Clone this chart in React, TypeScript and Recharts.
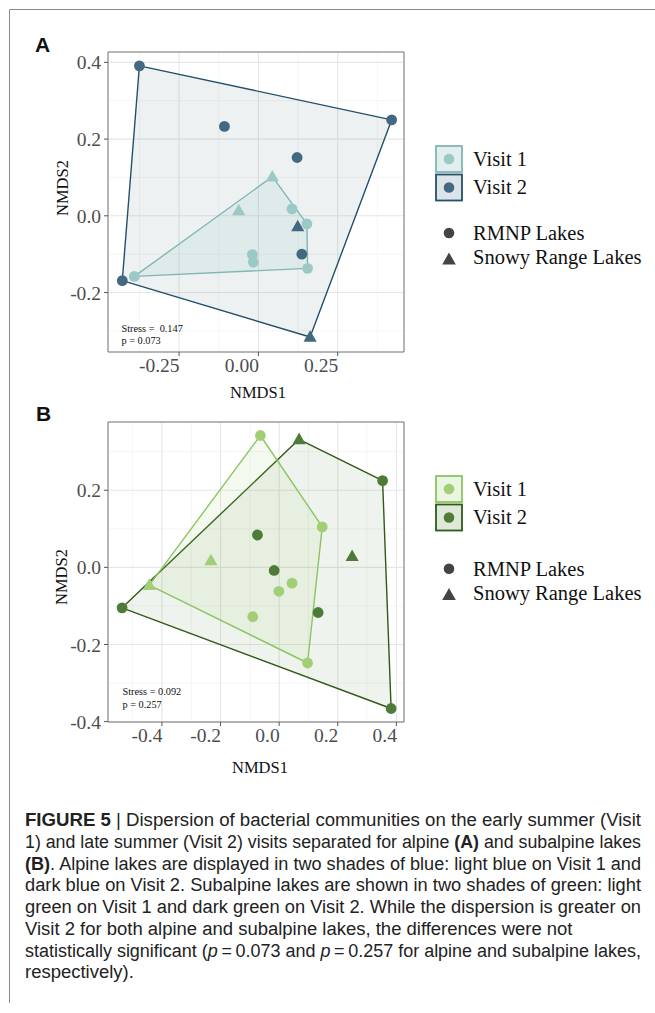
import React from 'react';
import { ScatterChart, Scatter, XAxis, YAxis, CartesianGrid, ReferenceArea } from 'recharts';

type Lake = 'RMNP' | 'Snowy';
interface Site {
  x: number;
  y: number;
  lake: Lake;
}

// Alpine lakes (panel A), NMDS site scores
const alpineVisit1: Site[] = [
  { x: 0.044, y: 0.102, lake: 'Snowy' },
  { x: -0.062, y: 0.014, lake: 'Snowy' },
  { x: 0.106, y: 0.018, lake: 'RMNP' },
  { x: 0.153, y: -0.021, lake: 'RMNP' },
  { x: -0.019, y: -0.101, lake: 'RMNP' },
  { x: -0.016, y: -0.121, lake: 'RMNP' },
  { x: 0.155, y: -0.137, lake: 'RMNP' },
  { x: -0.391, y: -0.158, lake: 'RMNP' },
];
const alpineVisit2: Site[] = [
  { x: -0.375, y: 0.391, lake: 'RMNP' },
  { x: 0.42, y: 0.25, lake: 'RMNP' },
  { x: -0.107, y: 0.233, lake: 'RMNP' },
  { x: 0.122, y: 0.152, lake: 'RMNP' },
  { x: 0.124, y: -0.028, lake: 'Snowy' },
  { x: 0.137, y: -0.1, lake: 'RMNP' },
  { x: 0.163, y: -0.316, lake: 'Snowy' },
  { x: -0.429, y: -0.169, lake: 'RMNP' },
];
// convex hull vertices (indices into the site arrays)
const alpineHull1 = [7, 0, 3, 6];
const alpineHull2 = [0, 1, 6, 7];

// Subalpine lakes (panel B)
const subalpineVisit1: Site[] = [
  { x: -0.064, y: 0.342, lake: 'RMNP' },
  { x: 0.147, y: 0.105, lake: 'RMNP' },
  { x: -0.233, y: 0.018, lake: 'Snowy' },
  { x: -0.443, y: -0.046, lake: 'Snowy' },
  { x: 0.044, y: -0.041, lake: 'RMNP' },
  { x: -0.001, y: -0.062, lake: 'RMNP' },
  { x: -0.09, y: -0.128, lake: 'RMNP' },
  { x: 0.097, y: -0.248, lake: 'RMNP' },
];
const subalpineVisit2: Site[] = [
  { x: 0.068, y: 0.332, lake: 'Snowy' },
  { x: 0.353, y: 0.225, lake: 'RMNP' },
  { x: 0.249, y: 0.029, lake: 'Snowy' },
  { x: -0.074, y: 0.084, lake: 'RMNP' },
  { x: -0.017, y: -0.008, lake: 'RMNP' },
  { x: 0.133, y: -0.117, lake: 'RMNP' },
  { x: -0.536, y: -0.105, lake: 'RMNP' },
  { x: 0.382, y: -0.366, lake: 'RMNP' },
];
const subalpineHull1 = [0, 1, 7, 3];
const subalpineHull2 = [0, 1, 7, 6];

// axes
const alpineXTicks = [-0.25, 0, 0.25];
const alpineXMinor = [-0.375, -0.125, 0.125, 0.375];
const alpineYTicks = [-0.2, 0, 0.2, 0.4];
const alpineYMinor = [-0.3, -0.1, 0.1, 0.3];
const subalpineXTicks = [-0.4, -0.2, 0, 0.2, 0.4];
const subalpineXMinor = [-0.5, -0.3, -0.1, 0.1, 0.3];
const subalpineYTicks = [-0.4, -0.2, 0, 0.2];
const subalpineYMinor = [-0.3, -0.1, 0.1, 0.3];

const alpineStress = ['Stress =  0.147', 'p = 0.073'];
const subalpineStress = ['Stress = 0.092', 'p = 0.257'];

const visitLabels = ['Visit 1', 'Visit 2'];
const lakeLabels = ['RMNP Lakes', 'Snowy Range Lakes'];

const SERIF = '"Liberation Serif", "Times New Roman", serif';
const SANS = '"Liberation Sans", Arial, sans-serif';

interface Palette {
  point1: string;
  point2: string;
  line1: string;
  line2: string;
  fill1: string;
  fill2: string;
  fillOpacity1: number;
  fillOpacity2: number;
  key1: string;
  key2: string;
}

const bluePalette: Palette = {
  point1: '#9bc9c5',
  point2: '#44687f',
  line1: '#80b7b4',
  line2: '#24506b',
  fill1: '#8fc3c0',
  fill2: '#4a7383',
  fillOpacity1: 0.14,
  fillOpacity2: 0.1,
  key1: '#e2efee',
  key2: '#dbe4e8',
};

const greenPalette: Palette = {
  point1: '#a2cf76',
  point2: '#4f7b38',
  line1: '#8cc462',
  line2: '#2f5a17',
  fill1: '#a0cd73',
  fill2: '#4e7a38',
  fillOpacity1: 0.11,
  fillOpacity2: 0.09,
  key1: '#eaf5e2',
  key2: '#dfe9da',
};

const hullOf = (sites: Site[], idx: number[]) => idx.map((i) => sites[i]);

const siteShape = (color: string) => (props: any) => {
  const { cx, cy, payload } = props;
  if (payload.lake === 'Snowy') {
    return (
      <polygon
        points={`${cx},${cy - 6.8} ${cx - 6.6},${cy + 4.8} ${cx + 6.6},${cy + 4.8}`}
        fill={color}
      />
    );
  }
  return <circle cx={cx} cy={cy} r={5.4} fill={color} />;
};

const noMarker = () => <g />;

const hullPolygon = (stroke: string, fill: string, fillOpacity: number) => (props: any) => {
  const pts = (props.points || []).map((p: any) => `${p.x},${p.y}`).join(' ');
  return (
    <polygon
      points={pts}
      fill={fill}
      fillOpacity={fillOpacity}
      stroke={stroke}
      strokeWidth={1.4}
      strokeLinejoin="round"
    />
  );
};

// x labels sit with their right edge on the tick
const XTick = (digits: number) => (props: any) => {
  const { x, y, payload } = props;
  return (
    <text x={x + 0.5} y={y} dy="0.71em" textAnchor="end" fill="#4d4d4d" fontSize={19.5} fontFamily={SERIF}>
      {payload.value.toFixed(digits)}
    </text>
  );
};

const YTick = (props: any) => {
  const { x, y, payload } = props;
  return (
    <text x={x} y={y} dy="0.36em" textAnchor="end" fill="#4d4d4d" fontSize={19.5} fontFamily={SERIF}>
      {payload.value.toFixed(1)}
    </text>
  );
};

interface PanelProps {
  top: number;
  visit1: Site[];
  visit2: Site[];
  hull1: number[];
  hull2: number[];
  xDomain: [number, number];
  yDomain: [number, number];
  xTicks: number[];
  xMinor: number[];
  yTicks: number[];
  yMinor: number[];
  xDigits: number;
  palette: Palette;
}

const OrdinationPanel: React.FC<PanelProps> = ({
  top, visit1, visit2, hull1, hull2, xDomain, yDomain, xTicks, xMinor, yTicks, yMinor, xDigits, palette,
}) => (
  <div style={{ position: 'absolute', left: 0, top, width: 420, height: 420 }}>
    <ScatterChart width={420} height={420} margin={{ top: 52, right: 16, bottom: 20, left: 58 }}>
      {/* minor then major grid */}
      <CartesianGrid
        stroke="#f1f1f1"
        strokeWidth={0.7}
        horizontalValues={yMinor}
        verticalValues={xMinor}
      />
      <CartesianGrid stroke="#e6e6e6" strokeWidth={1.1} />
      <XAxis
        type="number"
        dataKey="x"
        domain={xDomain}
        ticks={xTicks}
        interval={0}
        allowDataOverflow
        axisLine={false}
        tickSize={4}
        tickMargin={2}
        tickLine={{ stroke: '#555' }}
        tick={XTick(xDigits)}
        height={48}
      />
      <YAxis
        type="number"
        dataKey="y"
        domain={yDomain}
        ticks={yTicks}
        interval={0}
        allowDataOverflow
        axisLine={false}
        tickSize={4}
        tickMargin={3}
        tickLine={{ stroke: '#555' }}
        tick={YTick}
        width={50}
      />
      <Scatter
        data={hullOf(visit2, hull2)}
        shape={noMarker}
        line={hullPolygon(palette.line2, palette.fill2, palette.fillOpacity2)}
        lineType="joint"
        isAnimationActive={false}
      />
      <Scatter
        data={hullOf(visit1, hull1)}
        shape={noMarker}
        line={hullPolygon(palette.line1, palette.fill1, palette.fillOpacity1)}
        lineType="joint"
        isAnimationActive={false}
      />
      <Scatter data={visit2} shape={siteShape(palette.point2)} isAnimationActive={false} />
      <Scatter data={visit1} shape={siteShape(palette.point1)} isAnimationActive={false} />
      {/* panel border */}
      <ReferenceArea
        x1={xDomain[0]}
        x2={xDomain[1]}
        y1={yDomain[0]}
        y2={yDomain[1]}
        fill="none"
        stroke="#7a7a7a"
        strokeWidth={1}
        ifOverflow="visible"
      />
    </ScatterChart>
  </div>
);

interface LegendProps {
  boxTop: number;
  circleY: number;
  triangleY: number;
  palette: Palette;
}

const VisitLegend: React.FC<LegendProps> = ({ boxTop, circleY, triangleY, palette }) => {
  const bx = 436;
  const size = 26;
  const tx = 473;
  const rows = [
    { y: boxTop, fill: palette.key1, stroke: palette.line1, dot: palette.point1 },
    { y: boxTop + 28.5, fill: palette.key2, stroke: palette.line2, dot: palette.point2 },
  ];
  return (
    <g>
      {rows.map((r, i) => (
        <g key={i}>
          <rect x={bx} y={r.y} width={size} height={size} fill={r.fill} stroke={r.stroke} strokeWidth={1.8} />
          <circle cx={bx + size / 2} cy={r.y + size / 2} r={5.3} fill={r.dot} />
          <text x={tx} y={r.y + size / 2} dy="0.34em" fontSize={20.5} fontFamily={SERIF} fill="#111">
            {visitLabels[i]}
          </text>
        </g>
      ))}
      <circle cx={449} cy={circleY} r={5.3} fill="#444" />
      <text x={tx} y={circleY} dy="0.34em" fontSize={20.5} fontFamily={SERIF} fill="#111">
        {lakeLabels[0]}
      </text>
      <polygon
        points={`449,${triangleY - 7} ${442.2},${triangleY + 5} ${455.8},${triangleY + 5}`}
        fill="#444"
      />
      <text x={tx} y={triangleY - 2} dy="0.34em" fontSize={20.5} fontFamily={SERIF} fill="#111">
        {lakeLabels[1]}
      </text>
    </g>
  );
};

// caption lines; full lines are stretched to the right margin
const CAPTION_LEFT = 25;
const CAPTION_RIGHT = 641;
const captionLines: { content: React.ReactNode; full: boolean }[] = [
  {
    content: (
      <>
        <tspan fontWeight="bold">FIGURE 5</tspan> | Dispersion of bacterial communities on the early summer (Visit
      </>
    ),
    full: true,
  },
  {
    content: (
      <>
        1) and late summer (Visit 2) visits separated for alpine <tspan fontWeight="bold">(A)</tspan> and subalpine lakes
      </>
    ),
    full: true,
  },
  {
    content: (
      <>
        <tspan fontWeight="bold">(B)</tspan>. Alpine lakes are displayed in two shades of blue: light blue on Visit 1 and
      </>
    ),
    full: true,
  },
  { content: <>dark blue on Visit 2. Subalpine lakes are shown in two shades of green: light</>, full: true },
  { content: <>green on Visit 1 and dark green on Visit 2. While the dispersion is greater on</>, full: true },
  { content: <>Visit 2 for both alpine and subalpine lakes, the differences were not</>, full: false },
  {
    content: (
      <>
        statistically significant (<tspan fontStyle="italic">p</tspan>{'\u2009=\u2009'}0.073 and{' '}
        <tspan fontStyle="italic">p</tspan>{'\u2009=\u2009'}0.257 for alpine and subalpine lakes,
      </>
    ),
    full: true,
  },
  { content: <>respectively).</>, full: false },
];

export default function App() {
  return (
    <div
      style={{
        position: 'absolute',
        left: 0,
        top: 0,
        width: 655,
        height: 1013,
        background: '#fff',
        overflow: 'hidden',
      }}
    >
      <OrdinationPanel
        top={0}
        visit1={alpineVisit1}
        visit2={alpineVisit2}
        hull1={alpineHull1}
        hull2={alpineHull2}
        xDomain={[-0.474, 0.459]}
        yDomain={[-0.355, 0.427]}
        xTicks={alpineXTicks}
        xMinor={alpineXMinor}
        yTicks={alpineYTicks}
        yMinor={alpineYMinor}
        xDigits={2}
        palette={bluePalette}
      />
      <OrdinationPanel
        top={370}
        visit1={subalpineVisit1}
        visit2={subalpineVisit2}
        hull1={subalpineHull1}
        hull2={subalpineHull2}
        xDomain={[-0.584, 0.426]}
        yDomain={[-0.401, 0.377]}
        xTicks={subalpineXTicks}
        xMinor={subalpineXMinor}
        yTicks={subalpineYTicks}
        yMinor={subalpineYMinor}
        xDigits={1}
        palette={greenPalette}
      />

      <svg
        width={655}
        height={1013}
        style={{ position: 'absolute', left: 0, top: 0, pointerEvents: 'none' }}
      >
        {/* figure frame */}
        <line x1={9.5} y1={9.5} x2={655} y2={9.5} stroke="#8a8a8a" strokeWidth={1} />
        <line x1={9.5} y1={9.5} x2={9.5} y2={1003} stroke="#8a8a8a" strokeWidth={1} />

        <text x={35} y={52} fontSize={21} fontWeight="bold" fontFamily={SANS} fill="#111">A</text>
        <text x={36} y={421} fontSize={21} fontWeight="bold" fontFamily={SANS} fill="#111">B</text>

        {/* axis titles */}
        <text x={258} y={392} dy="0.35em" textAnchor="middle" fontSize={16.5} fontFamily={SERIF} fill="#111">NMDS1</text>
        <text x={260} y={767} dy="0.35em" textAnchor="middle" fontSize={16.5} fontFamily={SERIF} fill="#111">NMDS1</text>
        <text x={62} y={188} dy="0.35em" textAnchor="middle" fontSize={16.5} fontFamily={SERIF} fill="#111" transform="rotate(-90 62 188)">NMDS2</text>
        <text x={61} y={577} dy="0.35em" textAnchor="middle" fontSize={16.5} fontFamily={SERIF} fill="#111" transform="rotate(-90 61 577)">NMDS2</text>

        {/* stress annotations */}
        <text x={121.5} y={328} dy="0.35em" fontSize={10.3} fontFamily={SERIF} fill="#111" style={{ whiteSpace: 'pre' }}>{alpineStress[0]}</text>
        <text x={121.5} y={340.5} dy="0.35em" fontSize={10.3} fontFamily={SERIF} fill="#111">{alpineStress[1]}</text>
        <text x={122.5} y={691} dy="0.35em" fontSize={10.3} fontFamily={SERIF} fill="#111">{subalpineStress[0]}</text>
        <text x={122.5} y={704} dy="0.35em" fontSize={10.3} fontFamily={SERIF} fill="#111">{subalpineStress[1]}</text>

        <VisitLegend boxTop={146} circleY={233} triangleY={259.5} palette={bluePalette} />
        <VisitLegend boxTop={476} circleY={568.7} triangleY={595} palette={greenPalette} />

        {/* figure caption */}
        {captionLines.map((line, i) =>
          line.full ? (
            <text
              key={i}
              x={CAPTION_LEFT}
              y={820 + i * 21.7}
              dy="0.36em"
              fontSize={17.6}
              fontFamily={SANS}
              fill="#222"
              textLength={CAPTION_RIGHT - CAPTION_LEFT}
              lengthAdjust="spacingAndGlyphs"
            >
              {line.content}
            </text>
          ) : (
            <text
              key={i}
              x={0}
              y={820 + i * 21.7}
              dy="0.36em"
              fontSize={17.6}
              fontFamily={SANS}
              fill="#222"
              transform={`translate(${CAPTION_LEFT} 0) scale(1.05 1)`}
            >
              {line.content}
            </text>
          ),
        )}
      </svg>
    </div>
  );
}
